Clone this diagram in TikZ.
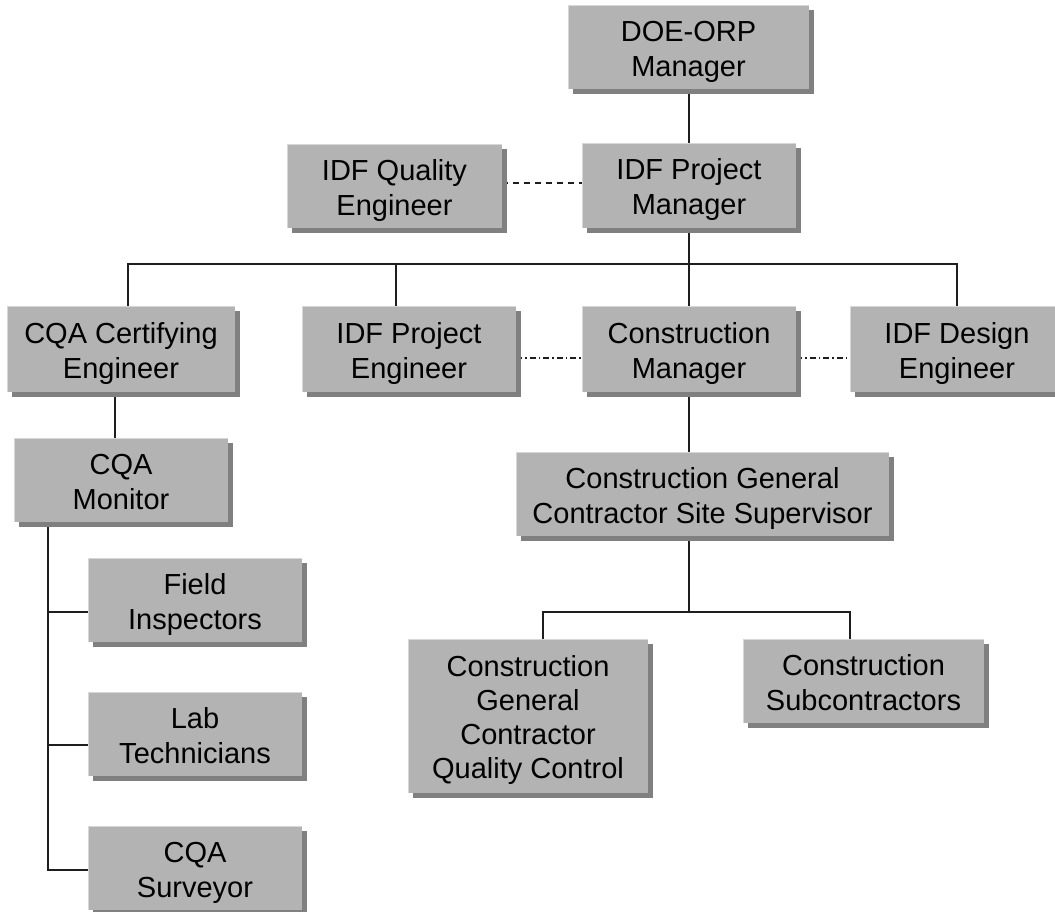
\documentclass[tikz,border=0pt]{standalone}
\usepackage{fontspec}
\setmainfont{Liberation Sans}
\usetikzlibrary{shadows}
\definecolor{boxgray}{RGB}{179,179,179}
\definecolor{shadowgray}{RGB}{128,128,128}
\definecolor{edgelight}{RGB}{215,215,215}
\definecolor{linecol}{RGB}{30,30,30}
\pgfdeclarelayer{back}
\pgfdeclarelayer{bg}
\pgfsetlayers{back,bg,main}
\newcommand{\boxtext}[1]{\raisebox{-4.5pt}[\height][\depth]{\begin{tabular}{@{}c@{}}#1\end{tabular}}}
\begin{document}
\begin{tikzpicture}[x=1pt,y=-1pt,
  orgbox/.style={fill=boxgray, inner sep=0pt,
    font=\fontsize{29}{35}\selectfont,
    path picture={\draw[edgelight, line width=2pt]
      (path picture bounding box.south west) -- (path picture bounding box.north west)
      -- (path picture bounding box.north east);},
    drop shadow={shadow xshift=5pt, shadow yshift=-5pt, fill=shadowgray, opacity=1}},
  conn/.style={draw=linecol, line width=1.2pt},
  dashconn/.style={draw=linecol, line width=1.1pt, dash pattern=on 6pt off 5pt},
  dotdashconn/.style={draw=linecol, line width=1.1pt, dash pattern=on 6pt off 3pt on 1.5pt off 3pt}]
\useasboundingbox (0,0) rectangle (1055,911);
\clip (0,0) rectangle (1055,911);
\begin{pgfonlayer}{back}
\fill[white] (0,0) rectangle (1055,911);
\end{pgfonlayer}

\node[orgbox, minimum width=241pt, minimum height=84pt] (doe) at (688.5,47) {\boxtext{DOE-ORP\\Manager}};
\node[orgbox, minimum width=214pt, minimum height=85pt] (pm) at (689,185.5) {\boxtext{IDF Project\\Manager}};
\node[orgbox, minimum width=215pt, minimum height=84pt] (qe) at (394.5,186) {\boxtext{IDF Quality\\Engineer}};
\node[orgbox, minimum width=228pt, minimum height=86pt] (cert) at (121,349) {\boxtext{CQA Certifying\\Engineer}};
\node[orgbox, minimum width=214pt, minimum height=86pt] (pe) at (409,349) {\boxtext{IDF Project\\Engineer}};
\node[orgbox, minimum width=214pt, minimum height=86pt] (cm) at (689,349) {\boxtext{Construction\\Manager}};
\node[orgbox, minimum width=214pt, minimum height=86pt] (de) at (957,349) {\boxtext{IDF Design\\Engineer}};
\node[orgbox, minimum width=214pt, minimum height=84pt] (mon) at (121,480) {\boxtext{CQA\\Monitor}};
\node[orgbox, minimum width=214pt, minimum height=84pt] (fi) at (195,600) {\boxtext{Field\\Inspectors}};
\node[orgbox, minimum width=214pt, minimum height=84pt] (lab) at (195,734) {\boxtext{Lab\\Technicians}};
\node[orgbox, minimum width=214pt, minimum height=84pt] (sur) at (195,868) {\boxtext{CQA\\Surveyor}};
\node[orgbox, minimum width=373pt, minimum height=84pt] (cgcss) at (702.5,494) {\boxtext{Construction General\\Contractor Site Supervisor}};
\node[orgbox, minimum width=240pt, minimum height=154pt, font=\fontsize{29}{34}\selectfont] (qc) at (528,716) {\boxtext{Construction\\General\\Contractor\\Quality Control}};
\node[orgbox, minimum width=241pt, minimum height=84pt] (sub) at (863.5,681) {\boxtext{Construction\\Subcontractors}};

\coordinate (hb) at (0,264);
\coordinate (hb2) at (0,612);

\begin{pgfonlayer}{bg}
\draw[conn] (doe.south -| pm.north) -- (pm.north);
\draw[dashconn] ([yshift=3pt]qe.east) -- ([yshift=3pt]qe.east -| pm.west);
\draw[conn] (pm.south) -- (cm.north);
\draw[conn] ([xshift=7pt]cert.north) |- (de.north |- hb) -- (de.north);
\draw[conn] ([xshift=-13pt]pe.north) -- ([xshift=-13pt]pe.north |- hb);
\draw[dotdashconn] ([yshift=-9pt]pe.east) -- ([yshift=-9pt]pe.east -| cm.west);
\draw[dotdashconn] ([yshift=-9pt]cm.east) -- ([yshift=-9pt]cm.east -| de.west);
\draw[conn] ([xshift=-6pt]cert.south) -- ([xshift=-6pt]mon.north);
\draw[conn] ([xshift=-73pt]mon.south) |- ([yshift=-2pt]sur.west);
\draw[conn] ([xshift=-73pt]mon.south |- fi.west) ++(0,12) -- ([yshift=-12pt]fi.west);
\draw[conn] ([xshift=-73pt]mon.south |- lab.west) ++(0,11) -- ([yshift=-11pt]lab.west);
\draw[conn] (cm.south) -- (cm.south |- cgcss.north);
\draw[conn] (cm.south |- cgcss.south) -- (cm.south |- hb2);
\draw[conn] ([xshift=15pt]qc.north) |- ([xshift=-13.5pt]sub.north |- hb2) -- ([xshift=-13.5pt]sub.north);
\end{pgfonlayer}
\end{tikzpicture}
\end{document}
